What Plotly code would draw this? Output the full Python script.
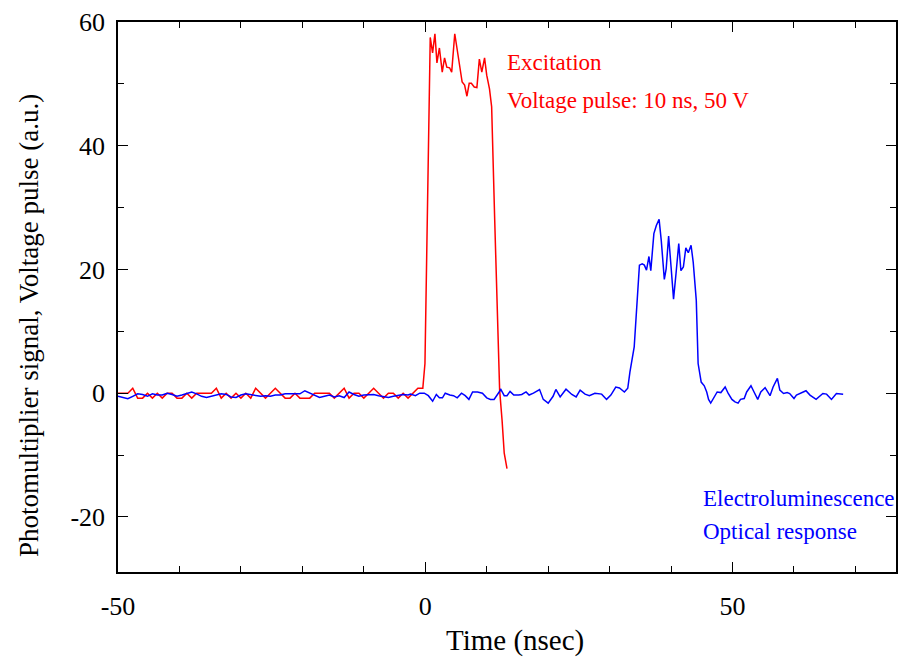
import plotly.graph_objects as go

# ---- Excitation (voltage pulse), red ----
red_t = [-50.0, -49.2, -48.4, -47.6, -46.8, -46.0, -45.2, -44.4, -43.6, -42.8,
         -42.0, -41.2, -40.4, -39.6, -38.8, -38.0, -37.2, -36.4, -35.6, -34.8,
         -34.0, -33.2, -32.4, -31.6, -30.8, -30.0, -29.2, -28.4, -27.6, -26.8,
         -26.0, -25.2, -24.4, -23.6, -22.8, -22.0, -21.2, -20.4, -19.6, -18.8,
         -18.0, -17.2, -16.4, -15.6, -14.8, -14.0, -13.2, -12.4, -11.6, -10.8,
         -10.0, -9.2, -8.4, -7.6, -6.8, -6.0, -5.2, -4.4, -3.6, -2.8,
         -2.0, -1.2, -0.4, -0.05, 0.81, 1.19, 1.57, 1.9, 2.3, 2.76,
         3.14, 3.5, 3.96, 4.3, 4.8, 5.3, 5.7, 6.0, 6.4, 6.78,
         7.15, 7.5, 7.97, 8.4, 8.8, 9.2, 9.65, 10.0, 10.45, 10.8,
         11.3, 11.7, 12.1, 12.5, 12.85, 13.3]
red_v = [0, 0, 0, 0.8, -0.8, -0.8, 0, -0.8, 0, -0.8,
         0, 0, -0.8, -0.8, 0, -0.8, 0, 0, 0, 0,
         0.8, -0.8, 0, -0.8, 0, -0.8, 0, -0.8, 0.8, 0,
         -0.8, 0, 0.8, 0, -0.8, -0.8, 0, -0.8, -0.8, -0.8,
         0, 0, 0, 0, -0.8, 0, 0.8, -0.8, 0, 0,
         -0.8, 0, 0.8, 0, -0.8, 0, 0, -0.8, 0, -0.8,
         0, 0.8, 0.8, 4.8, 57.5, 55.0, 58.1, 53.4, 55.8, 51.9,
         54.2, 52.7, 52.6, 51.9, 58.1, 54.9, 52.2, 50.3, 49.8, 48.0,
         50.1, 50.1, 49.5, 49.4, 54.0, 51.9, 54.2, 51.4, 49.2, 46.3,
         28.0, 14.0, 0.5, -4.4, -9.7, -12.2]

# ---- Electroluminescence (optical response), blue ----
blue_t = [-50.0, -49.2, -48.4, -47.6, -46.8, -46.0, -45.2, -44.4, -43.6, -42.8,
          -42.0, -41.2, -40.4, -39.6, -38.8, -38.0, -37.2, -36.4, -35.6, -34.8,
          -34.0, -33.2, -32.4, -31.6, -30.8, -30.0, -29.2, -28.4, -27.6, -26.8,
          -26.0, -25.2, -24.4, -23.6, -22.8, -22.0, -21.2, -20.4, -19.6, -18.8,
          -18.0, -17.2, -16.4, -15.6, -14.8, -14.0, -13.2, -12.4, -11.6, -10.8,
          -10.0, -9.2, -8.4, -7.6, -6.8, -6.0, -5.2, -4.4, -3.6, -2.8,
          -2.4, -1.6, -0.9, -0.16, 0.5, 1.2, 1.8, 2.3, 2.8, 3.25,
          4.0, 4.6, 5.2, 5.9, 6.5, 7.1, 7.7, 8.5, 9.3, 10.0,
          10.6, 11.2, 11.8, 12.3, 12.85, 13.3, 13.8, 14.4, 15.2, 15.7,
          16.4, 16.9, 17.6, 18.6, 19.2, 20.0, 20.8, 21.25, 21.95, 22.9,
          23.85, 24.55, 25.2, 26.0, 26.7, 27.6, 28.7, 29.5, 30.2, 31.0,
          31.6, 32.4, 32.95, 33.3, 34.0, 34.4, 34.85, 35.3, 35.65, 36.0,
          36.4, 36.7, 37.2, 37.6, 38.05, 38.4, 38.9, 39.2, 39.6, 40.0,
          40.4, 40.8, 41.25, 41.6, 42.0, 42.4, 42.8, 43.25, 43.6, 44.1,
          44.4, 44.9, 45.4, 45.8, 46.1, 46.45, 47.0, 47.5, 48.1, 48.8,
          49.3, 49.9, 50.4, 50.9, 51.3, 51.9, 52.3, 53.0, 53.5, 54.1,
          54.6, 55.3, 56.1, 56.6, 57.3, 57.7, 58.3, 58.9, 59.3, 60.0,
          60.4, 61.1, 61.95, 62.6, 63.6, 64.7, 65.3, 66.1, 66.9, 68.0]
blue_v = [-0.5, -0.7, -0.9, -0.5, -0.1, -0.2, -0.5, -0.1, -0.3, -0.3,
          0.0, -0.2, -0.5, -0.3, 0.0, 0.2, -0.1, -0.5, -0.7, -0.5,
          -0.2, -0.1, -0.2, -0.6, -0.7, -0.3, -0.1, -0.2, -0.4, -0.5,
          -0.4, -0.5, -0.3, -0.3, -0.1, -0.1, -0.2, -0.1, 0.4, 0.0,
          -0.4, -0.7, -0.5, -0.3, -0.6, -0.4, -0.7, 0.2, -0.2, -0.5,
          -0.3, -0.2, -0.2, -0.4, -0.6, -0.7, -0.5, -0.4, -0.2, -0.3,
          -0.15, -0.4, 0.0, 0.0, -0.4, -1.3, -0.2, -0.75, -0.75, 0.0,
          -0.3, -0.4, -0.75, 0.0, -0.4, -1.0, 0.2, 0.2, 0.0, -0.75,
          -1.0, -1.0, 0.0, 0.6, -0.4, -0.4, 0.3, -0.3, -0.3, -0.2,
          0.2, -0.3, 0.0, 0.6, -1.0, -1.6, -0.5, 0.6, -0.6, 0.65,
          -0.2, -0.6, 0.5, -0.15, -0.4, 0.0, -0.15, -1.0, -0.3, 1.0,
          0.85, 0.2, 0.8, 3.4, 7.5, 13.9, 20.7, 20.9, 20.7, 19.9,
          22.1, 19.8, 25.8, 27.1, 28.1, 24.7, 18.4, 20.1, 25.4, 20.4,
          15.2, 19.3, 24.2, 19.8, 20.4, 23.5, 22.7, 23.9, 21.2, 15.0,
          4.8, 1.8, 1.2, 0.2, -1.0, -1.6, -0.6, 0.2, 0.1, 1.0,
          -0.05, -1.0, -1.4, -1.6, -1.0, -0.86, 0.2, 1.2, 0.2, -1.0,
          0.2, 0.9, -0.4, 1.0, 2.4, 0.5, -0.05, 0.1, -0.05, -0.86,
          -0.3, 0.0, 0.4, -0.3, -1.0, -0.05, -0.15, -1.0, -0.05, -0.15]

x_ticks = [-50, 0, 50]
x_tick_labels = ["-50", "0", "50"]
y_ticks = [-20, 0, 20, 40, 60]
y_tick_labels = ["-20", "0", "20", "40", "60"]

FONT = "Liberation Serif"

fig = go.Figure()
fig.add_trace(go.Scatter(x=red_t, y=red_v, mode="lines",
                         line=dict(color="#ff0000", width=1.5), showlegend=False))
fig.add_trace(go.Scatter(x=blue_t, y=blue_v, mode="lines",
                         line=dict(color="#0000ff", width=1.5), showlegend=False))

axis_common = dict(
    showline=True, linecolor="black", linewidth=1.5, mirror="allticks",
    ticks="inside", ticklen=10, tickcolor="black", tickwidth=1,
    showgrid=False, zeroline=False, automargin=False,
    tickfont=dict(family=FONT, size=26, color="black"),
)

fig.update_xaxes(range=[-50, 76.6], tickvals=x_ticks, ticktext=x_tick_labels,
                 ticklabelstandoff=10,
                 minor=dict(dtick=10, ticks="inside", ticklen=6, tickcolor="black"),
                 **axis_common)
fig.update_yaxes(range=[-28.9, 60], tickvals=y_ticks, ticktext=y_tick_labels,
                 ticklabelstandoff=6,
                 minor=dict(dtick=10, ticks="inside", ticklen=6, tickcolor="black"),
                 **axis_common)

# axis titles
fig.add_annotation(x=0.5, y=0, xref="paper", yref="paper", text="Time (nsec)",
                   showarrow=False, xanchor="center", yanchor="middle",
                   xshift=8, yshift=-68,
                   font=dict(family=FONT, size=29, color="black"))
fig.add_annotation(x=0, y=0.5, xref="paper", yref="paper",
                   text="Photomultiplier signal, Voltage pulse (a.u.)",
                   showarrow=False, textangle=-90, xanchor="center", yanchor="middle",
                   xshift=-89, yshift=-29,
                   font=dict(family=FONT, size=27, color="black"))

ann_font_red = dict(family=FONT, size=23, color="#ff0000")
ann_font_blue = dict(family=FONT, size=23, color="#0000ff")
fig.add_annotation(x=13.0, y=53.5, xref="x", yref="y", text="Excitation",
                   showarrow=False, xanchor="left", yanchor="middle", font=ann_font_red)
fig.add_annotation(x=13.0, y=47.3, xref="x", yref="y", text="Voltage pulse: 10 ns, 50 V",
                   showarrow=False, xanchor="left", yanchor="middle", font=ann_font_red)
fig.add_annotation(x=44.9, y=-17.0, xref="x", yref="y", text="Electroluminescence",
                   showarrow=False, xanchor="left", yanchor="middle", font=ann_font_blue)
fig.add_annotation(x=44.9, y=-22.3, xref="x", yref="y", text="Optical response",
                   showarrow=False, xanchor="left", yanchor="middle", font=ann_font_blue)

fig.update_layout(
    width=899, height=657,
    margin=dict(l=118, r=3, t=22, b=85),
    paper_bgcolor="white", plot_bgcolor="white",
    font=dict(family=FONT, color="black"),
)

fig.write_html("out.html", config={"displayModeBar": False},
               post_script="document.body.style.margin='0';document.body.style.padding='0';"
                           "document.body.style.overflow='hidden';")
